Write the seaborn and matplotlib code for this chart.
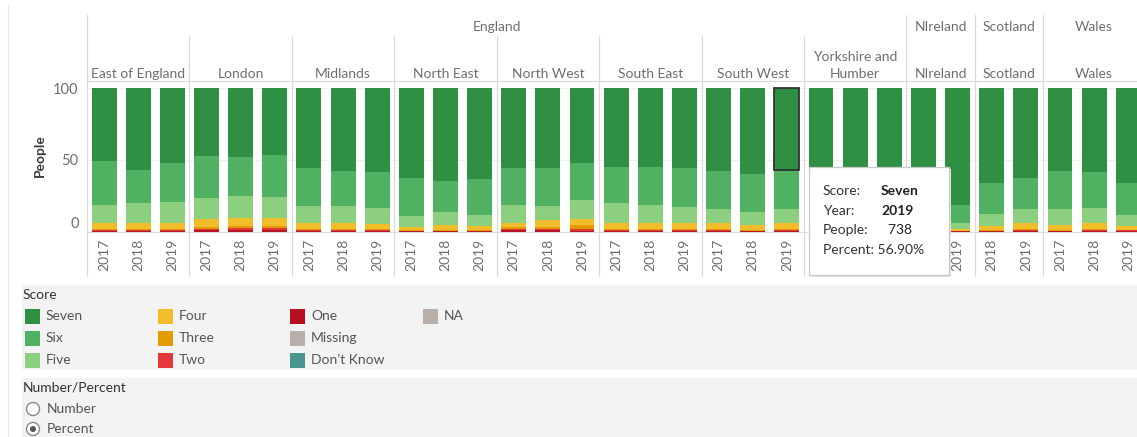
import numpy as np
import pandas as pd
import seaborn as sns
import matplotlib.pyplot as plt
from matplotlib import transforms
from matplotlib.patches import Rectangle, Circle

# ---- data (percent of people per score) ----
bar_country = ['England'] * 24 + ['NIreland'] * 2 + ['Scotland'] * 2 + ['Wales'] * 3
bar_region = (['East of England'] * 3 + ['London'] * 3 + ['Midlands'] * 3 + ['North East'] * 3
              + ['North West'] * 3 + ['South East'] * 3 + ['South West'] * 3
              + ['Yorkshire and\nHumber'] * 3 + ['NIreland'] * 2 + ['Scotland'] * 2 + ['Wales'] * 3)
bar_year = ['2017', '2018', '2019'] * 8 + ['2018', '2019'] * 2 + ['2017', '2018', '2019']

seven = [51.0, 57.1, 52.0, 47.4, 48.1, 46.5, 55.5, 57.6, 58.8, 63.0, 64.8, 63.4,
         55.5, 55.5, 52.5, 54.8, 54.8, 55.5, 57.8, 60.0, 56.9, 57.0, 58.0, 56.0,
         80.0, 81.5, 66.0, 63.0, 58.0, 58.8, 66.4]
six = [30.5, 23.3, 27.4, 29.3, 27.2, 29.5, 26.7, 24.6, 24.8, 26.2, 21.6, 25.1,
       26.0, 26.7, 25.8, 25.6, 26.5, 27.2, 26.5, 26.4, 27.6, 27.0, 27.0, 28.0,
       14.0, 12.8, 21.8, 21.5, 26.5, 24.8, 22.1]
five = [12.4, 13.5, 14.5, 14.8, 15.1, 14.4, 11.7, 11.7, 11.2, 7.9, 9.1, 7.5,
        12.4, 10.0, 13.0, 13.5, 12.6, 11.6, 9.6, 9.1, 9.8, 10.5, 10.0, 10.5,
        4.0, 4.2, 8.2, 9.4, 11.0, 10.3, 7.5]
four = [4.6, 4.2, 4.2, 5.2, 5.6, 5.6, 4.6, 4.6, 3.7, 1.9, 3.5, 3.0,
        2.8, 4.5, 4.2, 4.6, 4.3, 4.2, 4.6, 3.3, 4.2, 4.0, 3.5, 4.0,
        1.2, 1.0, 3.0, 4.6, 3.3, 4.6, 2.8]
three = [0.8, 1.0, 1.0, 1.3, 1.8, 1.8, 0.8, 0.8, 0.8, 0.5, 0.5, 0.5,
         1.4, 1.5, 3.0, 0.8, 1.0, 0.8, 0.8, 0.6, 0.8, 0.8, 0.8, 0.8,
         0.4, 0.3, 0.5, 0.3, 0.6, 0.5, 0.5]
two = [0.5, 0.6, 0.6, 1.0, 1.1, 1.1, 0.5, 0.5, 0.5, 0.3, 0.3, 0.3,
       1.0, 1.0, 0.9, 0.5, 0.5, 0.5, 0.5, 0.4, 0.5, 0.5, 0.5, 0.5,
       0.2, 0.1, 0.3, 0.7, 0.4, 0.6, 0.4]
one = [0.2, 0.3, 0.3, 1.0, 1.1, 1.1, 0.2, 0.2, 0.2, 0.2, 0.2, 0.2,
       0.9, 0.8, 0.6, 0.2, 0.3, 0.2, 0.2, 0.2, 0.2, 0.2, 0.2, 0.2,
       0.2, 0.1, 0.2, 0.5, 0.2, 0.4, 0.3]

score_colors = {'Seven': '#2f8f42', 'Six': '#51b163', 'Five': '#8bcf7f', 'Four': '#f1bd2a',
                'Three': '#e49a05', 'Two': '#e2383a', 'One': '#b5101f', 'Missing': '#b8aeaa',
                'Don’t Know': '#4a958f', 'NA': '#b8aeaa'}
legend_cols = [['Seven', 'Six', 'Five'], ['Four', 'Three', 'Two'],
               ['One', 'Missing', 'Don’t Know'], ['NA']]

tip_score, tip_year, tip_people, tip_percent = 'Seven', '2019', '738', '56.90%'
tip_bar = 20  # South West 2019

W, H = 1137, 437
FS = 10

df = pd.DataFrame({'country': bar_country, 'region': bar_region, 'year': bar_year,
                   'Seven': seven, 'Six': six, 'Five': five, 'Four': four,
                   'Three': three, 'Two': two, 'One': one})
df['bar'] = df['region'] + '|' + df['year']
bar_ids = list(df['bar'])
stack_order = ['One', 'Two', 'Three', 'Four', 'Five', 'Six', 'Seven']
cum = df[stack_order].cumsum(axis=1)

sns.set_style('white')
plt.rcParams['font.family'] = ['Lato', 'DejaVu Sans']

fig = plt.figure(figsize=(W / 100, H / 100), dpi=100)
ax = fig.add_axes([87 / W, (H - 231.5) / H, (W - 87) / W, (231.5 - 81) / H])

# stacked bars: draw cumulative totals from the top layer down
for s in reversed(stack_order):
    tmp = pd.DataFrame({'bar': df['bar'], 'v': cum[s]})
    sns.barplot(data=tmp, x='bar', y='v', order=bar_ids, color=score_colors[s],
                saturation=1, width=0.73, linewidth=0, errorbar=None, ax=ax)

# highlighted mark (tooltip target)
ax.add_patch(Rectangle((tip_bar - 0.365, cum['Six'][tip_bar]), 0.73, df['Seven'][tip_bar],
                       fill=False, edgecolor='#333333', lw=1.3, zorder=5))

ax.set_yticks([0, 50, 100])
ax.set_xticks(range(len(bar_ids)))
ax.set_xticklabels(bar_year, rotation=90)
ax.set_xticks(np.arange(-0.5, len(bar_ids), 1), minor=True)
ax.set_xlim(-0.5, -0.5 + (W - 87) / 34.14)
ax.set_ylim(0, 100 * (231.5 - 81) / 143.5)
ax.tick_params(axis='x', which='major', length=0, pad=5, labelsize=FS, labelcolor='#6e6e6e')
ax.tick_params(axis='x', which='minor', length=4, color='#e3e3e3', width=0.8)
ax.tick_params(axis='y', length=0, pad=6, labelsize=10.5, labelcolor='#6e6e6e')
ax.yaxis.get_major_ticks()[0].label1.set_verticalalignment('bottom')
ax.set_xlabel('')
ax.set_ylabel('')
ax.yaxis.grid(True, color='#f0f0f0', lw=0.8)
ax.set_axisbelow(True)
for sp in ['top', 'right', 'left']:
    ax.spines[sp].set_visible(False)
ax.spines['bottom'].set_color('#dcdcdc')
ax.spines['bottom'].set_linewidth(0.8)

# overlay in pixel coordinates for headers, legend, tooltip
ov = fig.add_axes([0, 0, 1, 1])
ov.set_xlim(0, W)
ov.set_ylim(H, 0)
ov.axis('off')
ov.patch.set_alpha(0)
mix = transforms.blended_transform_factory(ax.transData, ov.transData)

fig.text(40 / W, 1 - 156 / H, 'People', rotation=90, ha='center', va='center',
         fontsize=10, fontweight='bold', color='#3a3a3a')

line_c = '#dadada'
pos = pd.Series(range(len(df)))
for name, g in pos.groupby(df['country'], sort=False):
    lo, hi = g.min(), g.max()
    ov.plot([lo - 0.5, lo - 0.5], [15, 276], color=line_c, lw=0.9, transform=mix, clip_on=False)
    ov.text((lo + hi) / 2, 27, name, transform=mix, ha='center', va='center',
            fontsize=FS, color='#6e6e6e')
for name, g in pos.groupby(df['region'], sort=False):
    lo, hi = g.min(), g.max()
    if df['country'][lo] == 'England' and lo > 0:
        ov.plot([lo - 0.5, lo - 0.5], [36, 276], color=line_c, lw=0.9, transform=mix, clip_on=False)
    ov.text((lo + hi) / 2, 80, name, transform=mix, ha='center', va='bottom',
            fontsize=FS, color='#6e6e6e', linespacing=1.5)
ov.plot([87, W], [81, 81], color=line_c, lw=0.9)
ov.plot([8, 8], [5, H], color='#e8e8e8', lw=0.9)

# legend panel
ov.add_patch(Rectangle((22, 285), W - 22, 85, color='#f3f3f3', lw=0))
ov.text(23, 295, 'Score', ha='left', va='center', fontsize=FS, color='#333333')
for ci, col in enumerate(legend_cols):
    x0 = 25 + ci * 132.6
    for ri, s in enumerate(col):
        y0 = 316 + ri * 22
        ov.add_patch(Rectangle((x0, y0 - 7.5), 15, 15, color=score_colors[s], lw=0))
        ov.text(x0 + 21, y0, s, ha='left', va='center', fontsize=FS, color='#555555')

# Number/Percent control
ov.add_patch(Rectangle((22, 378), W - 22, H - 378, color='#f3f3f3', lw=0))
ov.text(23, 388, 'Number/Percent', ha='left', va='center', fontsize=FS, color='#333333')
ov.add_patch(Circle((33, 409), 6.5, facecolor='white', edgecolor='#8a8a8a', lw=1))
ov.add_patch(Circle((33, 429), 6.5, facecolor='white', edgecolor='#8a8a8a', lw=1))
ov.add_patch(Circle((33, 429), 3, facecolor='#555555', lw=0))
ov.text(47, 409, 'Number', ha='left', va='center', fontsize=FS, color='#555555')
ov.text(47, 429, 'Percent', ha='left', va='center', fontsize=FS, color='#555555')

# tooltip
ov.add_patch(Rectangle((811, 169), 140, 108, color='#e4e4e4', lw=0, zorder=6))
ov.add_patch(Rectangle((809, 167), 140, 108, facecolor='white', edgecolor='#c8c8c8', lw=0.9, zorder=7))
rows = [('Score:', tip_score, True), ('Year:', tip_year, True),
        ('People:', '  ' + tip_people, False)]
for i, (k, v, bold) in enumerate(rows):
    y0 = 191 + i * 19.7
    ov.text(823, y0, k, ha='left', va='center', fontsize=FS, color='#333333', zorder=8)
    ov.text(881, y0, v, ha='left', va='center', fontsize=FS, color='#222222',
            fontweight='bold' if bold else 'normal', zorder=8)
ov.text(823, 250, 'Percent: ' + tip_percent, ha='left', va='center', fontsize=FS,
        color='#333333', zorder=8)

fig.savefig('out.png', dpi=100)
